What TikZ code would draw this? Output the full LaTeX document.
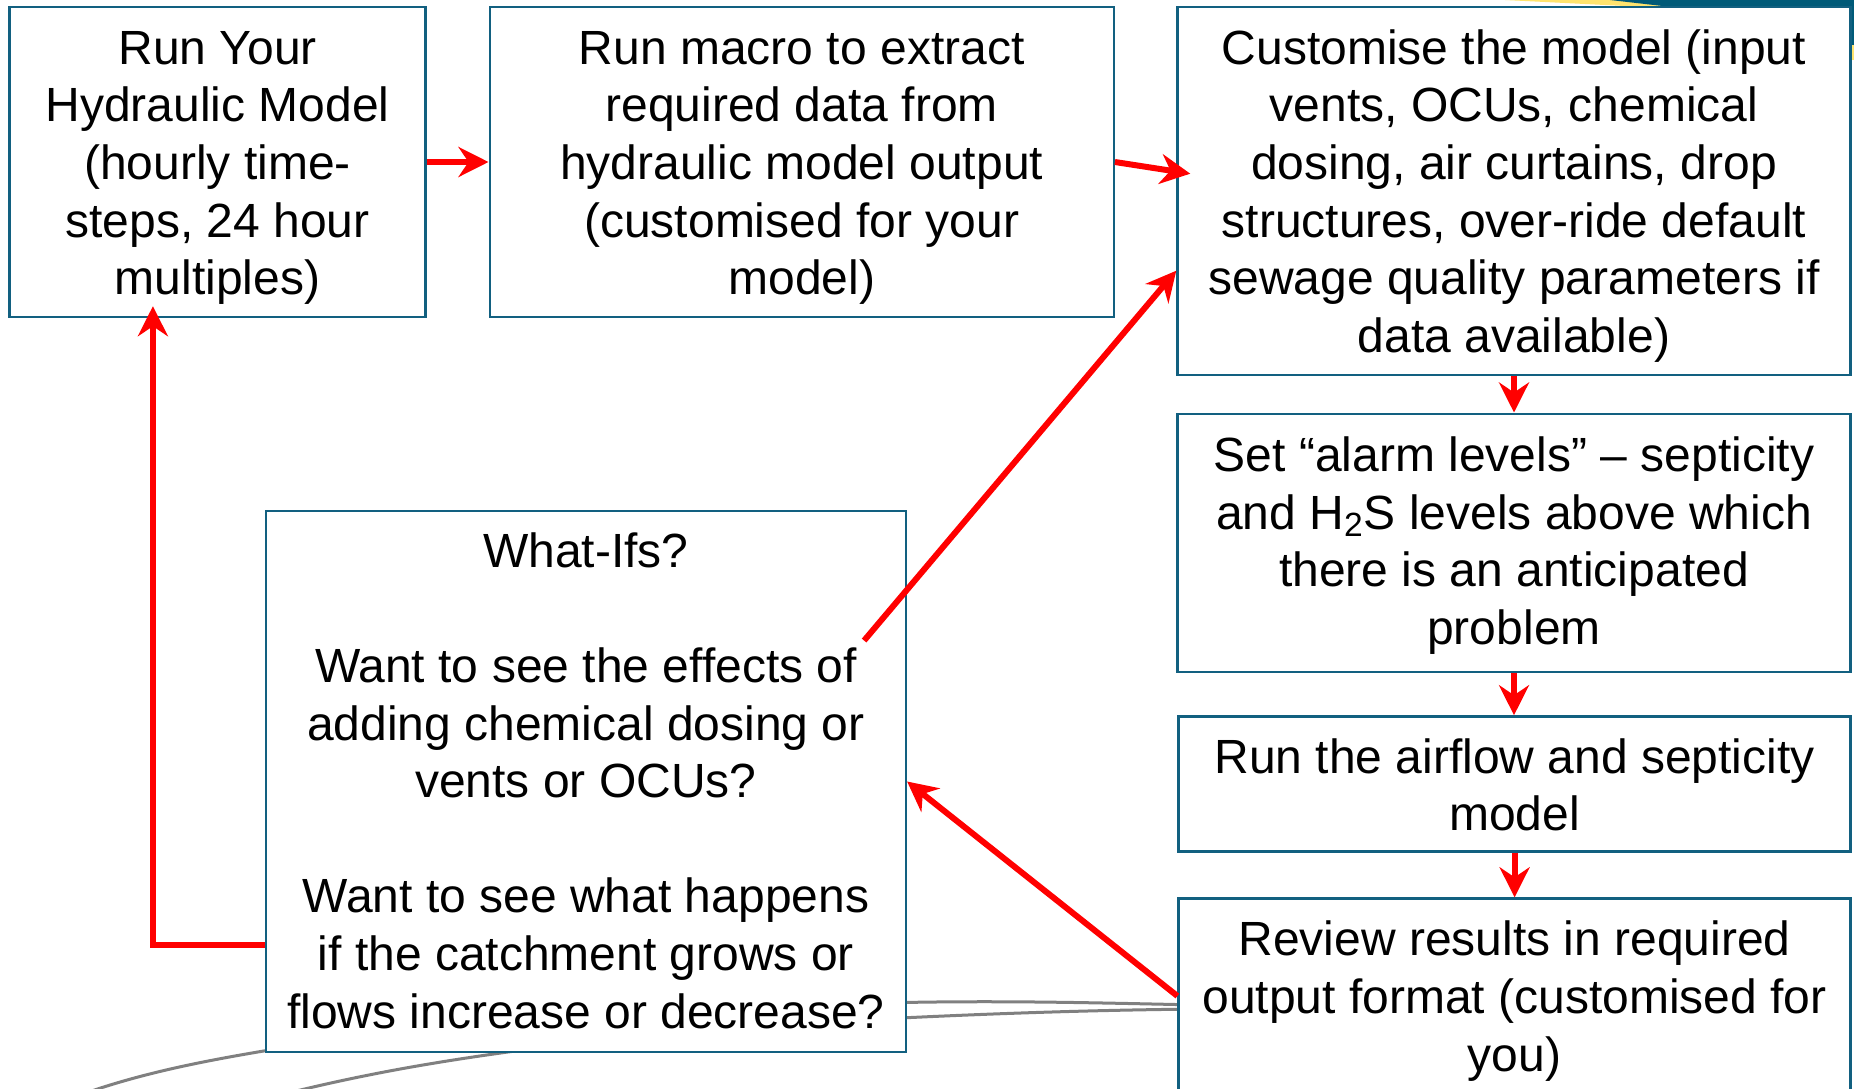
\documentclass[tikz,border=0pt]{standalone}
\usepackage{fontspec}
\setmainfont{Liberation Sans}
\usetikzlibrary{arrows.meta,calc}
\definecolor{boxline}{RGB}{18,96,128}
\definecolor{flowred}{RGB}{255,0,0}
\definecolor{decoteal}{RGB}{0,90,120}
\definecolor{decoyellow}{RGB}{255,228,110}
\definecolor{decogray}{RGB}{128,128,128}
\begin{document}
\begin{tikzpicture}[x=0.5pt,y=-0.5pt,
  stepbox/.style={draw=boxline, line width=1.2pt, fill=white, inner sep=0pt},
  boxtext/.style={inner sep=0pt, align=center, font=\fontsize{24}{28.8}\selectfont},
  flow/.style={draw=flowred, line width=3pt, -{Stealth[length=15pt,width=15pt,inset=5pt]}},
  deco/.style={draw=decogray, line width=1.5pt}]
\useasboundingbox (0,0) rectangle (1854,1088);
\clip (0,0) rectangle (1854,1088);
\fill[white] (0,0) rectangle (1854,1088);

% decorative background
\fill[decoyellow] (1505,0) -- (1665,0) -- (1665,8) -- cycle;
\fill[decoteal] (1610,0) -- (1854,0) -- (1854,8) -- (1680,8) -- cycle;
\fill[decoteal] (1848,0) rectangle (1854,45);
\fill[decoyellow] (1848,45) rectangle (1854,60);
\draw[deco] (880,1003) .. controls (1000,1000) and (1100,1003) .. (1200,1005);
\draw[deco] (880,1019) .. controls (1000,1013) and (1100,1010) .. (1200,1009);
\draw[deco] (80,1095) .. controls (150,1070) and (220,1058) .. (300,1045);
\draw[deco] (280,1095) .. controls (380,1070) and (460,1058) .. (560,1045);

% boxes
\node[stepbox, minimum width=208pt, minimum height=155pt] (b1) at (217.6,162) {};
\node[stepbox, minimum width=312pt, minimum height=155pt] (b2) at (801.7,162) {};
\node[stepbox, minimum width=336.5pt, minimum height=184pt] (b3) at (1514,190.9) {};
\node[stepbox, minimum width=336.5pt, minimum height=129pt] (b4) at (1514,542.7) {};
\node[stepbox, minimum width=336pt, minimum height=67.5pt] (b5) at (1514.6,783.9) {};
\node[stepbox, minimum width=336pt, minimum height=97.5pt] (b6) at (1514.6,996) {};
\node[stepbox, minimum width=320pt, minimum height=270.75pt] (w) at (585.9,781.5) {};

% texts
\node[boxtext] (t1) at ($(b1.center)+(0,6)$)
  {Run Your\\Hydraulic Model\\(hourly time-\\steps, 24 hour\\multiples)};
\node[boxtext] (t2) at ($(b2.center)+(0,6)$)
  {Run macro to extract\\required data from\\hydraulic model output\\(customised for your\\model)};
\node[boxtext] (t3) at ($(b3.center)+(0,5)$)
  {Customise the model (input\\vents, OCUs, chemical\\dosing, air curtains, drop\\structures, over-ride default\\sewage quality parameters if\\data available)};
\node[boxtext] (t4) at ($(b4.center)+(0,3)$)
  {Set “alarm levels” – septicity\\and H\textsubscript{2}S levels above which\\there is an anticipated\\problem};
\node[boxtext] (t5) at ($(b5.center)+(0,1)$)
  {Run the airflow and septicity\\model};
\node[boxtext] (t6) at ($(b6.center)+(0,5)$)
  {Review results in required\\output format (customised for\\you)};
\node[boxtext] (tw) at ($(w.center)+(0,-1)$)
  {What-Ifs?\\[28.8pt]Want to see the effects of\\adding chemical dosing or\\vents or OCUs?\\[28.8pt]Want to see what happens\\if the catchment grows or\\flows increase or decrease?};

% connectors
\coordinate (b3in) at ($(b3.north west)+(14,168)$);
\coordinate (wtop) at ($(w.north east)+(-43,131)$);
\coordinate (b3low) at ($(b3.north west)+(0,265)$);
\coordinate (wleft) at ($(w.north west)+(0,435)$);
\coordinate (b1in) at ($(b1.south west)+(144.5,-12)$);

\draw[flow] (b1.east) -- (b2.west);
\draw[flow] (b2.east) -- (b3in);
\draw[flow] (b3.south) -- (b4.north);
\draw[flow] (b4.south) -- (b4.south |- b5.north);
\draw[flow] (b5.south) -- (b5.south |- b6.north);
\draw[flow] (b6.west) -- (w.east);
\draw[flow] (wtop) -- (b3low);
\draw[flow] (wleft) -| (b1in);
\end{tikzpicture}
\end{document}
